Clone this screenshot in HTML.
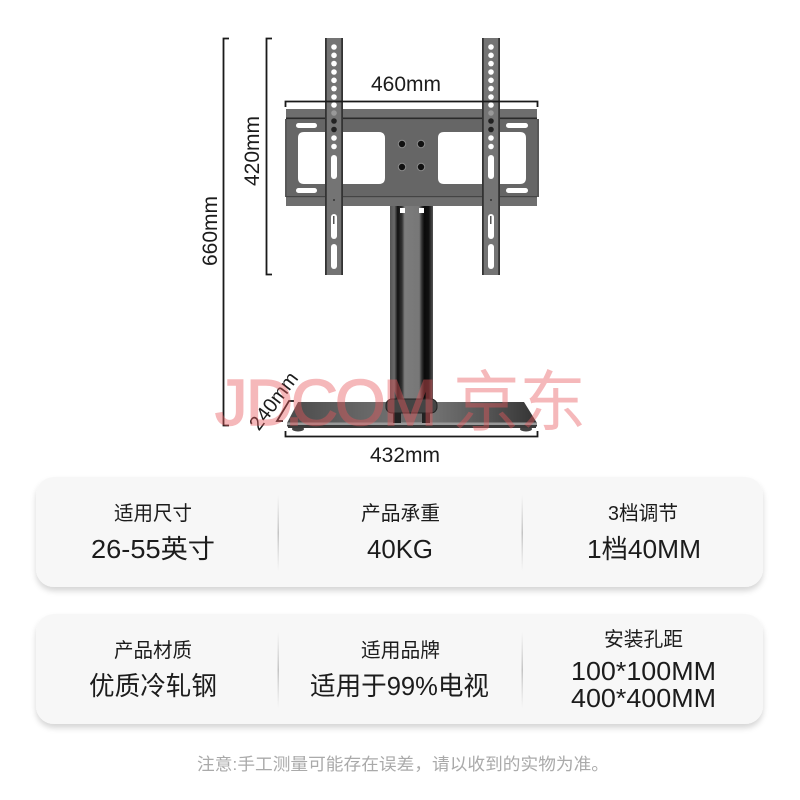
<!DOCTYPE html>
<html><head><meta charset="utf-8"><style>
html,body{margin:0;padding:0;background:#fff}
svg{display:block}
text{font-family:"Liberation Sans","Noto Sans CJK SC",sans-serif;fill:#1c1c1c}
</style></head><body>
<svg width="800" height="800" viewBox="0 0 800 800" xmlns="http://www.w3.org/2000/svg">
<defs>
<linearGradient id="col" x1="0" x2="1" y1="0" y2="0"><stop offset="0" stop-color="#555"/><stop offset=".1" stop-color="#6a6a6a"/><stop offset=".18" stop-color="#111"/><stop offset=".28" stop-color="#333"/><stop offset=".34" stop-color="#7c7c7c"/><stop offset=".68" stop-color="#777"/><stop offset=".74" stop-color="#333"/><stop offset=".8" stop-color="#0a0a0a"/><stop offset=".9" stop-color="#111"/><stop offset="1" stop-color="#555"/></linearGradient>
<linearGradient id="base" x1="0" x2="1" y1="0" y2="0"><stop offset="0" stop-color="#4a4a4a"/><stop offset=".3" stop-color="#666"/><stop offset=".55" stop-color="#777"/><stop offset=".8" stop-color="#555"/><stop offset="1" stop-color="#333"/></linearGradient>
<linearGradient id="div" x1="0" x2="0" y1="0" y2="1"><stop offset="0" stop-color="#ccc" stop-opacity="0"/><stop offset=".5" stop-color="#c4c4c4"/><stop offset="1" stop-color="#ccc" stop-opacity="0"/></linearGradient>
<filter id="sh" x="-5%" y="-10%" width="110%" height="125%"><feDropShadow dx="0" dy="4" stdDeviation="3" flood-color="#000" flood-opacity=".16"/></filter>
</defs>

<!-- column -->
<rect x="390" y="206" width="43" height="210" fill="url(#col)"/>
<rect x="400" y="208" width="5" height="5" fill="#fff"/>
<rect x="419" y="208" width="5" height="5" fill="#fff"/>
<!-- base -->
<ellipse cx="298" cy="429" rx="6" ry="2.5" fill="#444"/>
<ellipse cx="526" cy="429" rx="6" ry="2.5" fill="#444"/>
<path d="M298 402H524L537 423V426L535 428H289L287 426V423Z" fill="url(#base)"/>
<rect x="287" y="422.5" width="250" height="2.5" fill="#999"/>
<rect x="288" y="425" width="248" height="3" fill="#3a3a3a"/>
<rect x="393" y="413" width="8" height="10" fill="#222"/>
<rect x="422" y="413" width="8" height="10" fill="#222"/>
<rect x="401" y="413" width="21" height="9" fill="#6a6a6a"/>
<rect x="386" y="399" width="51" height="14" rx="6" fill="#444" stroke="#222" stroke-width="1"/>
<!-- plate -->
<path fill-rule="evenodd" fill="#666" d="M285 119H539V197H285Z M304 132Q298 132 298 138V178Q298 184 304 184H379Q385 184 385 178V138Q385 132 379 132Z M444 132Q438 132 438 138V178Q438 184 444 184H520Q526 184 526 178V138Q526 132 520 132Z"/>
<rect x="285" y="119" width="2" height="78" fill="#585858"/>
<rect x="537" y="119" width="2" height="78" fill="#585858"/>
<rect x="286" y="109" width="251" height="9" fill="#6e6e6e"/>
<rect x="286" y="117.5" width="251" height="1.6" fill="#2a2a2a"/>
<rect x="286" y="197" width="251" height="9" fill="#6e6e6e"/>
<rect x="286" y="196" width="251" height="1.2" fill="#444"/>
<rect x="296" y="123" width="21" height="5" rx="2.5" fill="#fff"/>
<rect x="296" y="188" width="21" height="5" rx="2.5" fill="#fff"/>
<rect x="506" y="123" width="22" height="5" rx="2.5" fill="#fff"/>
<rect x="506" y="188" width="22" height="5" rx="2.5" fill="#fff"/>
<g fill="#111" stroke="#8a8a8a" stroke-width="1"><circle cx="402" cy="144" r="3.7"/><circle cx="421" cy="144" r="3.7"/><circle cx="402" cy="167" r="3.7"/><circle cx="421" cy="167" r="3.7"/></g>
<!-- left pillar -->
<g>
<rect x="325" y="38" width="18" height="237" fill="#747474"/>
<rect x="325" y="38" width="1.8" height="237" fill="#333"/>
<rect x="341.2" y="38" width="1.8" height="237" fill="#333"/>
<g fill="#fff"><circle cx="334" cy="47" r="2.8"/><circle cx="334" cy="55.3" r="2.8"/><circle cx="334" cy="63.6" r="2.8"/><circle cx="334" cy="72" r="2.8"/><circle cx="334" cy="80.3" r="2.8"/><circle cx="334" cy="88.6" r="2.8"/><circle cx="334" cy="97" r="2.8"/><circle cx="334" cy="105" r="2.8"/>
<circle cx="334" cy="138" r="2.8"/><circle cx="334" cy="146.5" r="2.8"/></g>
<circle cx="334" cy="113" r="2.8" fill="#999"/><circle cx="334" cy="121" r="2.8" fill="#222"/><circle cx="334" cy="129.5" r="2.8" fill="#222"/>
<rect x="331" y="155" width="6" height="24" rx="3" fill="#fff"/>
<rect x="331" y="214" width="6" height="25" rx="3" fill="#fff"/>
<rect x="331" y="244" width="6" height="25" rx="3" fill="#fff"/>
<rect x="333" y="216" width="1.5" height="8" fill="#555"/>
<circle cx="334" cy="200" r="1" fill="#333"/>
</g>
<g transform="translate(157 0)">
<rect x="325" y="38" width="18" height="237" fill="#747474"/>
<rect x="325" y="38" width="1.8" height="237" fill="#333"/>
<rect x="341.2" y="38" width="1.8" height="237" fill="#333"/>
<g fill="#fff"><circle cx="334" cy="47" r="2.8"/><circle cx="334" cy="55.3" r="2.8"/><circle cx="334" cy="63.6" r="2.8"/><circle cx="334" cy="72" r="2.8"/><circle cx="334" cy="80.3" r="2.8"/><circle cx="334" cy="88.6" r="2.8"/><circle cx="334" cy="97" r="2.8"/><circle cx="334" cy="105" r="2.8"/>
<circle cx="334" cy="138" r="2.8"/><circle cx="334" cy="146.5" r="2.8"/></g>
<circle cx="334" cy="113" r="2.8" fill="#999"/><circle cx="334" cy="121" r="2.8" fill="#222"/><circle cx="334" cy="129.5" r="2.8" fill="#222"/>
<rect x="331" y="155" width="6" height="24" rx="3" fill="#fff"/>
<rect x="331" y="214" width="6" height="25" rx="3" fill="#fff"/>
<rect x="331" y="244" width="6" height="25" rx="3" fill="#fff"/>
<rect x="333" y="216" width="1.5" height="8" fill="#555"/>
<circle cx="334" cy="200" r="1" fill="#333"/>
</g>

<!-- dimension lines -->
<g fill="none" stroke="#1a1a1a" stroke-width="1.8">
<path d="M229 38.5H223.5V425.5H229"/>
<path d="M272 38.5H266.5V274.5H272"/>
<path d="M285.5 107V101.5H537.5V107"/>
<path d="M285.5 431V436.5H537.5V431"/>
<path d="M294 401H289L277 421H283"/>
</g>
<g style="font-size:21px" text-anchor="middle">
<text x="406" y="91">460mm</text>
<text x="405" y="462">432mm</text>
<text transform="translate(259 151) rotate(-90)">420mm</text>
<text transform="translate(217 231) rotate(-90)">660mm</text>
<text transform="translate(279 405) rotate(-53)" style="font-size:20px">240mm</text>
</g>

<!-- watermark -->
<g opacity=".42">
<text x="215 246 285 291 335 383" y="425" style="font-size:65px;fill:#e8585c;stroke:#e8585c;stroke-width:1.5">JD.COM</text>
<text x="453" y="425" style="font-size:66px;fill:#e8585c" textLength="133" lengthAdjust="spacingAndGlyphs">京东</text>
</g>

<!-- cards -->
<rect x="36" y="477" width="727" height="110" rx="18" fill="#f7f7f7" filter="url(#sh)"/>
<rect x="36" y="614" width="727" height="110" rx="18" fill="#f7f7f7" filter="url(#sh)"/>
<rect x="277.5" y="495" width="1.5" height="76" fill="url(#div)"/>
<rect x="521.5" y="495" width="1.5" height="76" fill="url(#div)"/>
<rect x="277.5" y="632" width="1.5" height="76" fill="url(#div)"/>
<rect x="521.5" y="632" width="1.5" height="76" fill="url(#div)"/>

<g text-anchor="middle" style="font-size:20px">
<text x="153" y="520" textLength="78" lengthAdjust="spacingAndGlyphs">适用尺寸</text>
<text x="400.5" y="520" textLength="79" lengthAdjust="spacingAndGlyphs">产品承重</text>
<text x="643" y="520" textLength="70" lengthAdjust="spacingAndGlyphs">3档调节</text>
<text x="153" y="657" textLength="78" lengthAdjust="spacingAndGlyphs">产品材质</text>
<text x="400.5" y="657" textLength="79" lengthAdjust="spacingAndGlyphs">适用品牌</text>
<text x="643.5" y="646" textLength="79" lengthAdjust="spacingAndGlyphs">安装孔距</text>
</g>
<g text-anchor="middle" style="font-size:26px">
<text x="153" y="558" textLength="124" lengthAdjust="spacingAndGlyphs">26-55英寸</text>
<text x="400" y="558" textLength="66" lengthAdjust="spacingAndGlyphs">40KG</text>
<text x="644" y="558" textLength="114" lengthAdjust="spacingAndGlyphs">1档40MM</text>
<text x="153" y="695" textLength="128" lengthAdjust="spacingAndGlyphs">优质冷轧钢</text>
<text x="399.5" y="695" textLength="179" lengthAdjust="spacingAndGlyphs">适用于99%电视</text>
<text x="643.5" y="680" textLength="145" lengthAdjust="spacingAndGlyphs">100*100MM</text>
<text x="643.5" y="707" textLength="145" lengthAdjust="spacingAndGlyphs">400*400MM</text>
</g>
<text x="403" y="770" text-anchor="middle" style="font-size:17px;fill:#aaa" textLength="412" lengthAdjust="spacingAndGlyphs">注意:手工测量可能存在误差，请以收到的实物为准。</text>
</svg>
</body></html>
